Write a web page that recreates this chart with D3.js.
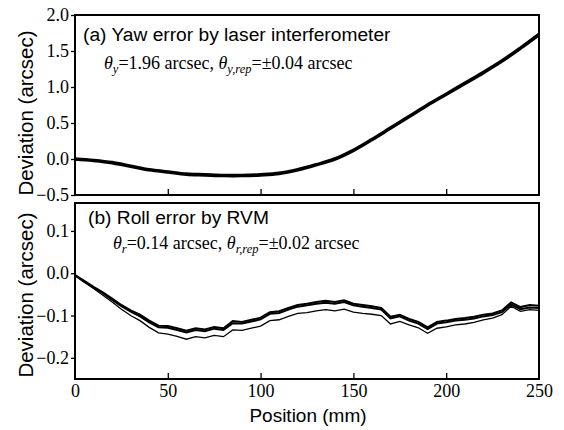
<!DOCTYPE html>
<html>
<head>
<meta charset="utf-8">
<script src="https://cdn.jsdelivr.net/npm/d3@7"></script>
<style>
  body { margin: 0; background: #fff; }
  svg { display: block; }
</style>
</head>
<body>
<script>
var SERIF = '"Liberation Serif", "Times New Roman", serif';
var SANS = '"Liberation Sans", Arial, sans-serif';

// x positions (mm)
var positions = d3.range(0, 251, 5);
var yawPos = [0, 10, 20, 30, 40, 50, 60, 70, 80, 90, 100, 110, 120, 130, 140, 150, 160, 170, 180, 190, 200, 210, 220, 230, 240, 250];
var yawValues = [0.0, -0.02, -0.05, -0.10, -0.15, -0.18, -0.21, -0.22, -0.23, -0.23, -0.22, -0.20, -0.15, -0.08, 0.0, 0.12, 0.27, 0.43, 0.59, 0.75, 0.90, 1.05, 1.20, 1.36, 1.54, 1.73];

// roll runs (two close thick ones, one thin lower)
var rollA = [-0.005, -0.018, -0.032, -0.045, -0.060, -0.075, -0.088, -0.098, -0.112, -0.124, -0.125,
  -0.130, -0.136, -0.130, -0.133, -0.127, -0.130, -0.113, -0.115, -0.110, -0.105,
  -0.092, -0.090, -0.082, -0.075, -0.072, -0.068, -0.065, -0.068, -0.064, -0.072,
  -0.075, -0.078, -0.082, -0.103, -0.098, -0.108, -0.115, -0.128, -0.115, -0.112,
  -0.108, -0.106, -0.103, -0.098, -0.095, -0.088, -0.069, -0.080, -0.075, -0.077];
var rollB = [-0.004, -0.020, -0.034, -0.047, -0.063, -0.078, -0.091, -0.102, -0.116, -0.128, -0.129,
  -0.134, -0.140, -0.134, -0.137, -0.131, -0.134, -0.118, -0.119, -0.114, -0.109,
  -0.096, -0.094, -0.086, -0.079, -0.076, -0.072, -0.070, -0.072, -0.068, -0.076,
  -0.079, -0.082, -0.086, -0.107, -0.102, -0.112, -0.119, -0.132, -0.119, -0.116,
  -0.112, -0.110, -0.107, -0.102, -0.099, -0.092, -0.074, -0.085, -0.081, -0.082];
var rollC = [-0.006, -0.021, -0.036, -0.052, -0.068, -0.085, -0.100, -0.112, -0.128, -0.141, -0.144,
  -0.149, -0.156, -0.150, -0.153, -0.147, -0.150, -0.134, -0.135, -0.130, -0.125,
  -0.112, -0.110, -0.102, -0.095, -0.093, -0.089, -0.086, -0.089, -0.085, -0.092,
  -0.095, -0.097, -0.100, -0.120, -0.114, -0.122, -0.129, -0.142, -0.130, -0.127,
  -0.122, -0.120, -0.116, -0.110, -0.106, -0.098, -0.078, -0.090, -0.086, -0.088];

var xTicks = [0, 50, 100, 150, 200, 250];
var yawTicks = [-0.5, 0.0, 0.5, 1.0, 1.5, 2.0];
var rollTicks = [-0.2, -0.1, 0.0, 0.1];

var W = 564, H = 430;
var left = 75, right = 539;

var svg = d3.select("body").append("svg").attr("width", W).attr("height", H);

var x = d3.scaleLinear().domain([0, 250]).range([left, right]);
var yTop = d3.scaleLinear().domain([-0.5, 2.0]).range([195, 15]);
var yBot = d3.scaleLinear().domain([-0.25, 0.166]).range([379, 203]);

function styleLabels(a) {
  a.selectAll("text")
    .style("font-family", SERIF).style("font-size", "18px").attr("fill", "#000");
}

function panel(y, ticks, fmt, showXLabels) {
  var g = svg.append("g");
  var r = y.range();
  // inward x ticks at bottom
  g.append("g").attr("transform", "translate(0," + r[0] + ")")
    .call(d3.axisTop(x).tickValues(xTicks.slice(1, -1)).tickSize(6).tickFormat(""))
    .call(function (a) { a.select(".domain").remove(); a.selectAll("line").attr("stroke-width", 1.3); });
  // outward y ticks
  g.append("g").attr("transform", "translate(" + left + ",0)")
    .call(d3.axisLeft(y).tickValues(ticks).tickSize(4).tickPadding(2).tickFormat(fmt))
    .call(function (a) {
      a.select(".domain").remove();
      a.selectAll("line").attr("stroke-width", 1.3);
      styleLabels(a);
    });
  if (showXLabels) {
    g.append("g").attr("transform", "translate(0," + r[0] + ")")
      .call(d3.axisBottom(x).tickValues(xTicks).tickSize(0).tickPadding(5).tickFormat(d3.format("d")))
      .call(function (a) {
        a.select(".domain").remove();
        styleLabels(a);
      });
  }
  g.append("rect").attr("x", left).attr("y", r[1]).attr("width", right - left).attr("height", r[0] - r[1])
    .attr("fill", "none").attr("stroke", "#000").attr("stroke-width", 2);
  return g;
}

panel(yTop, yawTicks, d3.format(".1f"), false);
panel(yBot, rollTicks, d3.format(".1f"), true);

svg.append("clipPath").attr("id", "clipB").append("rect")
  .attr("x", left).attr("y", 203).attr("width", right - left).attr("height", 176);

var yawLine = d3.line().curve(d3.curveCatmullRom).x(function (d, i) { return x(yawPos[i]); }).y(function (d) { return yTop(d); });
svg.append("path").datum(yawValues).attr("d", yawLine)
  .attr("fill", "none").attr("stroke", "#000").attr("stroke-width", 3.6);

var rollLine = d3.line().x(function (d, i) { return x(positions[i]); }).y(function (d) { return yBot(d); });
var gRoll = svg.append("g").attr("clip-path", "url(#clipB)");
gRoll.append("path").datum(rollC).attr("d", rollLine).attr("fill", "none").attr("stroke", "#000").attr("stroke-width", 1.3);
gRoll.append("path").datum(rollB).attr("d", rollLine).attr("fill", "none").attr("stroke", "#000").attr("stroke-width", 2);
gRoll.append("path").datum(rollA).attr("d", rollLine).attr("fill", "none").attr("stroke", "#000").attr("stroke-width", 2);

// panel titles
svg.append("text").style("font-family", SANS).attr("x", 83).attr("y", 41).style("font-size", "19.2px")
  .text("(a) Yaw error by laser interferometer");
svg.append("text").style("font-family", SANS).attr("x", 88).attr("y", 224).style("font-size", "19.2px")
  .text("(b) Roll error by RVM");

function subtitle(xp, yp, sub, v1, sub2, v2) {
  var t = svg.append("text").style("font-family", SERIF).attr("x", xp).attr("y", yp).style("font-size", "18px");
  t.append("tspan").attr("font-style", "italic").text("θ");
  t.append("tspan").attr("font-style", "italic").style("font-size", "12.5px").attr("dy", 4).text(sub);
  t.append("tspan").attr("dy", -4).text("=" + v1 + " arcsec, ");
  t.append("tspan").attr("font-style", "italic").text("θ");
  t.append("tspan").attr("font-style", "italic").style("font-size", "12.5px").attr("dy", 4).text(sub2);
  t.append("tspan").attr("dy", -4).text("=" + v2 + " arcsec");
}
subtitle(104, 69, "y", "1.96", "y,rep", "±0.04");
subtitle(113, 249, "r", "0.14", "r,rep", "±0.02");

// axis titles
function yTitle(cy) {
  svg.append("text").style("font-family", SANS).style("font-size", "20.5px").attr("text-anchor", "middle")
    .attr("transform", "translate(33," + cy + ") rotate(-90)").text("Deviation (arcsec)");
}
yTitle(113);
yTitle(295);
svg.append("text").style("font-family", SANS).style("font-size", "19px").attr("text-anchor", "middle")
  .attr("x", 308).attr("y", 422).text("Position (mm)");
</script>
</body>
</html>
